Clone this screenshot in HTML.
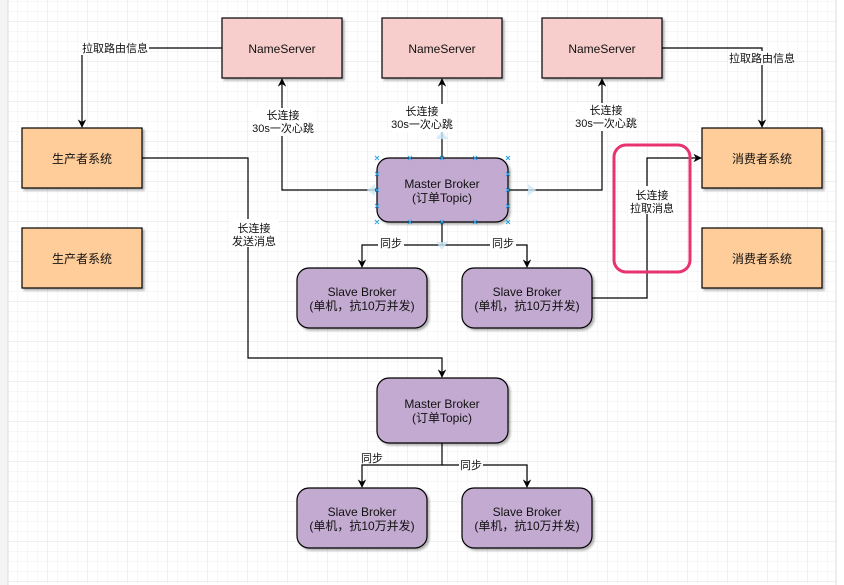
<!DOCTYPE html>
<html><head><meta charset="utf-8"><style>
html,body{margin:0;padding:0;background:#fff;}
svg{display:block;}
text{font-family:"Liberation Sans","Noto Sans CJK SC",sans-serif;font-size:12px;fill:#111;}
</style></head><body>
<svg width="844" height="585" viewBox="0 0 844 585" xmlns="http://www.w3.org/2000/svg">
<defs>
<pattern id="g1" x="8" y="2" width="10" height="10" patternUnits="userSpaceOnUse"><path d="M10 0V10M0 10H10" fill="none" stroke="#efefef" stroke-width="1"/></pattern>
<pattern id="g2" x="8" y="22" width="40" height="40" patternUnits="userSpaceOnUse"><path d="M40 0V40M0 40H40" fill="none" stroke="#e2e2e2" stroke-width="1"/></pattern>
<marker id="a" viewBox="0 0 10 10" refX="9" refY="5" markerWidth="7" markerHeight="7" orient="auto"><path d="M0 0L10 5L0 10L3 5z" fill="#000"/></marker>
<filter id="sh"><feDropShadow dx="2" dy="2" stdDeviation="1" flood-color="#000" flood-opacity="0.3"/></filter>
</defs>
<rect width="844" height="585" fill="#fff"/>
<rect x="8" y="0" width="828" height="583" fill="url(#g1)"/>
<rect x="8" y="0" width="828" height="583" fill="url(#g2)"/>
<rect x="0" y="0" width="8" height="585" fill="#f4f4f4"/>
<line x1="8" y1="0" x2="8" y2="585" stroke="#ddd"/>
<line x1="836" y1="0" x2="836" y2="585" stroke="#ddd"/>

<g fill="none" stroke="#000" stroke-width="1.2">
<path d="M222 48H82V127" marker-end="url(#a)"/>
<path d="M377 190H282V79" marker-end="url(#a)"/>
<path d="M442 158V79" marker-end="url(#a)"/>
<path d="M508 190H602V79" marker-end="url(#a)"/>
<path d="M662 48H762V127" marker-end="url(#a)"/>
<path d="M442 222V245H362V267" marker-end="url(#a)"/>
<path d="M442 245H527V267" marker-end="url(#a)"/>
<path d="M142 158H248V358H442V377" marker-end="url(#a)"/>
<path d="M592 298H647V158H701" marker-end="url(#a)"/>
<path d="M442 443V465H362V487" marker-end="url(#a)"/>
<path d="M442 465H527V487" marker-end="url(#a)"/>
</g>

<g filter="url(#sh)" stroke="#000" stroke-width="1.2">
<rect x="222" y="18" width="120" height="60" fill="#f8cecc"/>
<rect x="382" y="18" width="120" height="60" fill="#f8cecc"/>
<rect x="542" y="18" width="120" height="60" fill="#f8cecc"/>
<rect x="22" y="128" width="120" height="60" fill="#ffcd9a"/>
<rect x="22" y="228" width="120" height="60" fill="#ffcd9a"/>
<rect x="702" y="128" width="120" height="60" fill="#ffcd9a"/>
<rect x="702" y="228" width="120" height="60" fill="#ffcd9a"/>
<rect x="377" y="158" width="131" height="64" rx="12" fill="#c3aad0"/>
<rect x="377" y="378" width="131" height="65" rx="12" fill="#c3aad0"/>
<rect x="297" y="268" width="130" height="60" rx="12" fill="#c3aad0"/>
<rect x="462" y="268" width="130" height="60" rx="12" fill="#c3aad0"/>
<rect x="297" y="488" width="130" height="60" rx="12" fill="#c3aad0"/>
<rect x="462" y="488" width="130" height="60" rx="12" fill="#c3aad0"/>
</g>

<!-- selection hints -->
<g fill="#cde8f8" opacity="0.8">
<path d="M367 190l8-6v12z"/><path d="M536 190l-8-6v12z"/>
<path d="M442 250l-6-8h12z"/><path d="M442 131l-6 8h12z"/>
</g>
<g stroke="#29a3e8" stroke-width="1">
<path d="M375 156l4 4M379 156l-4 4M408 156l4 4M412 156l-4 4M440 156l4 4M444 156l-4 4M473 156l4 4M477 156l-4 4M506 156l4 4M510 156l-4 4"/>
<path d="M375 220l4 4M379 220l-4 4M408 220l4 4M412 220l-4 4M440 220l4 4M444 220l-4 4M473 220l4 4M477 220l-4 4M506 220l4 4M510 220l-4 4"/>
<path d="M375 172l4 4M379 172l-4 4M375 188l4 4M379 188l-4 4M375 204l4 4M379 204l-4 4"/>
<path d="M506 172l4 4M510 172l-4 4M506 188l4 4M510 188l-4 4M506 204l4 4M510 204l-4 4"/>
</g>

<rect x="614" y="145" width="76" height="127" rx="12" fill="none" stroke="#e8336e" stroke-width="3"/>

<!-- label backgrounds -->
<g fill="#fff">
<rect x="81" y="41" width="68" height="14"/>
<rect x="252" y="108" width="62" height="28"/>
<rect x="392" y="104" width="62" height="28"/>
<rect x="575" y="103" width="62" height="28"/>
<rect x="728" y="51" width="68" height="14"/>
<rect x="378" y="237" width="26" height="14"/>
<rect x="490" y="237" width="26" height="14"/>
<rect x="230" y="219" width="48" height="28"/>
<rect x="628" y="186" width="48" height="28"/>
<rect x="360" y="451" width="24" height="13"/>
<rect x="459" y="458" width="24" height="13"/>
</g>

<g text-anchor="middle">
<text x="282" y="53">NameServer</text>
<text x="442" y="53">NameServer</text>
<text x="602" y="53">NameServer</text>
<text x="82" y="163">生产者系统</text>
<text x="82" y="263">生产者系统</text>
<text x="762" y="163">消费者系统</text>
<text x="762" y="263">消费者系统</text>
<text x="442" y="188">Master Broker</text>
<text x="442" y="202">(订单Topic)</text>
<text x="442" y="408">Master Broker</text>
<text x="442" y="422">(订单Topic)</text>
<text x="362" y="296">Slave Broker</text>
<text x="362" y="310">(单机，抗10万并发)</text>
<text x="527" y="296">Slave Broker</text>
<text x="527" y="310">(单机，抗10万并发)</text>
<text x="362" y="516">Slave Broker</text>
<text x="362" y="530">(单机，抗10万并发)</text>
<text x="527" y="516">Slave Broker</text>
<text x="527" y="530">(单机，抗10万并发)</text>
<g font-size="11">
<text x="115" y="52" style="font-size:11px">拉取路由信息</text>
<text x="762" y="62" style="font-size:11px">拉取路由信息</text>
<text x="283" y="119" style="font-size:11px">长连接</text>
<text x="283" y="132" style="font-size:11px">30s一次心跳</text>
<text x="422" y="115" style="font-size:11px">长连接</text>
<text x="422" y="128" style="font-size:11px">30s一次心跳</text>
<text x="606" y="114" style="font-size:11px">长连接</text>
<text x="606" y="127" style="font-size:11px">30s一次心跳</text>
<text x="391" y="247" style="font-size:11px">同步</text>
<text x="503" y="247" style="font-size:11px">同步</text>
<text x="254" y="232" style="font-size:11px">长连接</text>
<text x="254" y="245" style="font-size:11px">发送消息</text>
<text x="652" y="199" style="font-size:11px">长连接</text>
<text x="652" y="212" style="font-size:11px">拉取消息</text>
<text x="372" y="462" style="font-size:11px">同步</text>
<text x="471" y="469" style="font-size:11px">同步</text>
</g>
</g>
</svg>
</body></html>
